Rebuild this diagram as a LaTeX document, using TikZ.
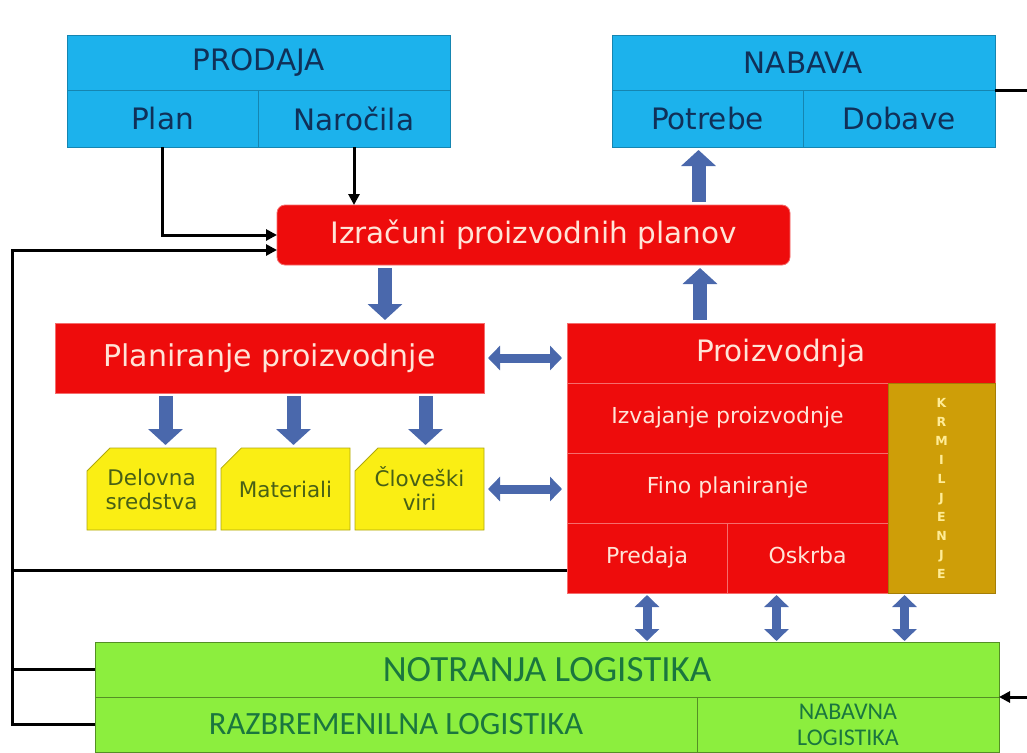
\documentclass[tikz,border=0pt]{standalone}
\usepackage{fontspec}
\setmainfont{DejaVu Sans}
\newfontfamily\logfont{Carlito}
\usetikzlibrary{positioning,arrows.meta,calc,shapes.misc}
\definecolor{boxblue}{RGB}{28,178,236}
\definecolor{txtblue}{RGB}{16,48,88}
\definecolor{boxred}{RGB}{238,12,12}
\definecolor{txtred}{RGB}{255,228,215}
\definecolor{boxyel}{RGB}{250,238,20}
\definecolor{txtyel}{RGB}{72,96,22}
\definecolor{boxgold}{RGB}{206,158,8}
\definecolor{txtgold}{RGB}{255,236,150}
\definecolor{boxgreen}{RGB}{140,238,62}
\definecolor{txtgreen}{RGB}{26,118,62}
\definecolor{arrblue}{RGB}{74,104,172}
\tikzset{
  >={Triangle[length=11pt,width=11pt]},
  cell/.style={rectangle,minimum height=55pt,inner sep=2pt,outer sep=0pt},
  bluebox/.style={cell,fill=boxblue,draw=boxblue!75!black,line width=0.8pt,
    text=txtblue,font=\fontsize{29.5}{34}\selectfont},
  redbox/.style={cell,fill=boxred,draw=boxred!60!white,line width=0.8pt,text=txtred},
  redbig/.style={redbox,font=\fontsize{29.5}{34}\selectfont},
  redsub/.style={redbox,minimum height=70pt,text height=16pt,text depth=5pt,
    font=\fontsize{22}{26}\selectfont},
  yelbox/.style={chamfered rectangle,chamfered rectangle corners=north west,
    chamfered rectangle xsep=13pt,chamfered rectangle ysep=10pt,
    minimum width=129pt,minimum height=82pt,inner sep=2pt,outer sep=0pt,
    fill=boxyel,draw=boxyel!70!black,line width=0.8pt,text=txtyel,align=center,
    font=\fontsize{21.5}{24}\selectfont},
  goldbox/.style={cell,fill=boxgold,draw=boxgold!80!black,line width=0.8pt,
    text=txtgold,align=center,font=\bfseries\fontsize{12.5}{19}\selectfont},
  greenbox/.style={cell,fill=boxgreen,draw=boxgreen!60!black,line width=0.8pt,
    text=txtgreen,font=\logfont\fontsize{32.5}{36}\selectfont},
  fb/.style={line width=3pt,black},
  blk/.style={line width=14pt,arrblue,-{Triangle[length=16pt,width=34pt]},
    shorten <=3pt,shorten >=3pt},
  dblk/.style={line width=9pt,arrblue,
    {Triangle[length=12pt,width=24pt]}-{Triangle[length=12pt,width=24pt]}},
}
\begin{document}
\begin{tikzpicture}[x=1pt,y=-1pt,node distance=0pt]
  \useasboundingbox (0,0) rectangle (1027,752);
  \node[bluebox,anchor=north west,minimum width=383pt] (prodaja) at (67,35) {PRODAJA};
  \node[bluebox,minimum width=191pt,minimum height=57pt,below right=0pt and 0pt of prodaja.south west] (plan) {Plan};
  \node[bluebox,minimum width=192pt,minimum height=57pt,right=0pt of plan] (narocila) {Naročila};
  \node[bluebox,anchor=north west,minimum width=383pt] (nabava) at (612,35) {NABAVA};
  \node[bluebox,minimum width=191pt,minimum height=57pt,below right=0pt and 0pt of nabava.south west] (potrebe) {Potrebe};
  \node[bluebox,minimum width=192pt,minimum height=57pt,right=0pt of potrebe] (dobave) {Dobave};

  \node[redbig,rounded corners=8pt,anchor=north west,minimum width=513pt,minimum height=60pt] (izr) at (277,205) {Izračuni proizvodnih planov};
  \node[redbig,anchor=north west,minimum width=429pt,minimum height=70pt,font=\fontsize{30}{34}\selectfont] (planir) at (55,323) {Planiranje proizvodnje};

  \node[yelbox,anchor=south west] (delov) at (87,530) {Delovna\\sredstva};
  \node[yelbox,right=5pt of delov] (mater) {Materiali};
  \node[yelbox,right=5pt of mater] (clov) {Človeški\\viri};

  \node[redbig,anchor=north west,minimum width=428pt,minimum height=60pt] (proizv) at (567,323) {Proizvodnja};
  \node[redsub,minimum width=321pt,below right=0pt and 0pt of proizv.south west] (izvaj) {Izvajanje proizvodnje};
  \node[redsub,minimum width=321pt,below right=0pt and 0pt of izvaj.south west] (fino) {Fino planiranje};
  \node[redsub,minimum width=160pt,below right=0pt and 0pt of fino.south west] (predaja) {Predaja};
  \node[redsub,minimum width=161pt,right=0pt of predaja] (oskrba) {Oskrba};
  \node[goldbox,minimum width=107pt,minimum height=210pt,below left=0pt and 0pt of proizv.south east] (krmil) {K\\R\\M\\I\\L\\J\\E\\N\\J\\E};

  \node[greenbox,anchor=north west,minimum width=904pt,font=\logfont\fontsize{37}{40}\selectfont] (notr) at (95,642) {NOTRANJA LOGISTIKA};
  \node[greenbox,minimum width=602pt,below right=0pt and 0pt of notr.south west] (razb) {RAZBREMENILNA LOGISTIKA};
  \node[greenbox,minimum width=302pt,right=0pt of razb,align=center,font=\logfont\fontsize{24}{26}\selectfont] (nabl) {NABAVNA\\LOGISTIKA};

  \coordinate (lft) at (12,250);
  \coordinate (rgt) at (1030,90);
  \draw[fb,->] (plan.south) |- (izr.west);
  \draw[fb,->] (narocila.south) -- (narocila.south |- izr.north);
  \draw[fb,->] (razb.west) -| (lft) -- (lft -| izr.west);
  \draw[fb] (notr.west) -- (notr.west -| lft);
  \draw[fb] ([yshift=-12pt]predaja.west) -- ([yshift=-12pt]predaja.west -| lft);
  \draw[fb,->] (nabava.south east) -- (rgt) |- (notr.south east);

  \draw[blk] ([xshift=-148.5pt]izr.south) -- ([xshift=-148.5pt]izr.south |- planir.north);
  \draw[blk] ([xshift=-81pt]proizv.north) -- ([xshift=-81pt]proizv.north |- izr.south);
  \draw[blk] ([xshift=-9pt]potrebe.south |- izr.north) -- ([xshift=-9pt]potrebe.south);
  \foreach \n/\d in {delov/14,mater/8,clov/6}
    \draw[blk] ([xshift=\d pt]\n.north |- planir.south) -- ([xshift=\d pt]\n.north);

  \draw[dblk,shorten <=4pt,shorten >=5pt] (planir.east) -- (planir.east -| proizv.west);
  \draw[dblk,shorten <=4pt,shorten >=5pt] (clov.east) -- (clov.east -| fino.west);
  \draw[dblk,shorten <=2pt,shorten >=1pt] (predaja.south) -- (predaja.south |- notr.north);
  \draw[dblk,shorten <=2pt,shorten >=1pt] ([xshift=-31pt]oskrba.south) -- ([xshift=-31pt]oskrba.south |- notr.north);
  \draw[dblk,shorten <=2pt,shorten >=1pt] ([xshift=-37pt]krmil.south) -- ([xshift=-37pt]krmil.south |- notr.north);
\end{tikzpicture}
\end{document}
